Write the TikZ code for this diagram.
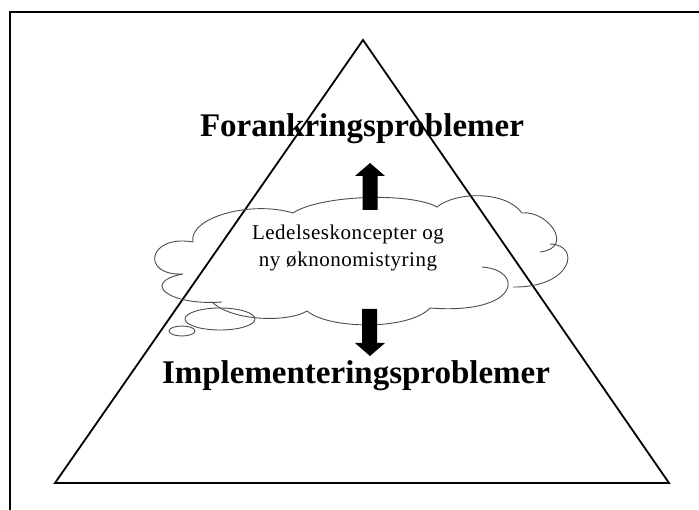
\documentclass[tikz,border=0pt]{standalone}
\usepackage{fontspec}
\setmainfont{Liberation Serif}
\usetikzlibrary{positioning}

\begin{document}
\begin{tikzpicture}[x=1pt, y=-1pt,
    head/.style={font=\bfseries\fontsize{33}{36}\selectfont, inner sep=0pt, anchor=base},
    idea/.style={font=\fontsize{21}{27}\selectfont\addfontfeature{LetterSpace=2.5}, align=center, inner sep=0pt},
    cloudline/.style={draw=black!70, line width=0.9pt},
    blockarrow/.style={fill=black}]
\useasboundingbox (0,0) rectangle (699,510);
% frame (only top and left edge fall on the page)
\begin{scope}
  \clip (0,0) rectangle (699,510);
  \draw[line width=2.6pt] (10,12) rectangle (730,540);
\end{scope}
% pyramid
\draw[line width=1.8pt] (363,40) -- (669,483) -- (55,483) -- cycle;
% cloud (screen coordinates, clockwise)
\draw[cloudline] (193,242) .. controls (188,218) and (250,200) .. (293,213)
  .. controls (320,195) and (410,192) .. (437,207)
  .. controls (455,192) and (505,190) .. (522,213)
  .. controls (548,210) and (575,248) .. (540,252)
  (550,244) .. controls (582,245) and (572,288) .. (513,287)
  (482,267) .. controls (525,270) and (520,315) .. (430,308)
  .. controls (410,330) and (330,330) .. (307,311)
  .. controls (290,322) and (235,322) .. (213,303)
  (222,302) .. controls (168,306) and (140,282) .. (183,274)
  .. controls (140,276) and (148,234) .. (193,242);
% thought bubbles
\draw[cloudline] (220,319) ellipse [x radius=35, y radius=11];
\draw[cloudline] (182,331) ellipse [x radius=13, y radius=5];
% texts
\node[head] (top) at (362,137) {Forankringsproblemer};
\node[head] (bottom) at (356,384) {Implementeringsproblemer};
\node[idea] (concept) at (348,248) {Ledelseskoncepter og\\ny øknonomistyring};
% block arrows
\fill[blockarrow] (362.5,210) -- (362.5,176) -- (355,176) -- (370,163)
  -- (385,176) -- (377.5,176) -- (377.5,210) -- cycle;
\fill[blockarrow] (362,309) -- (362,343) -- (355,343) -- (370,356)
  -- (385,343) -- (377,343) -- (377,309) -- cycle;
\end{tikzpicture}
\end{document}
